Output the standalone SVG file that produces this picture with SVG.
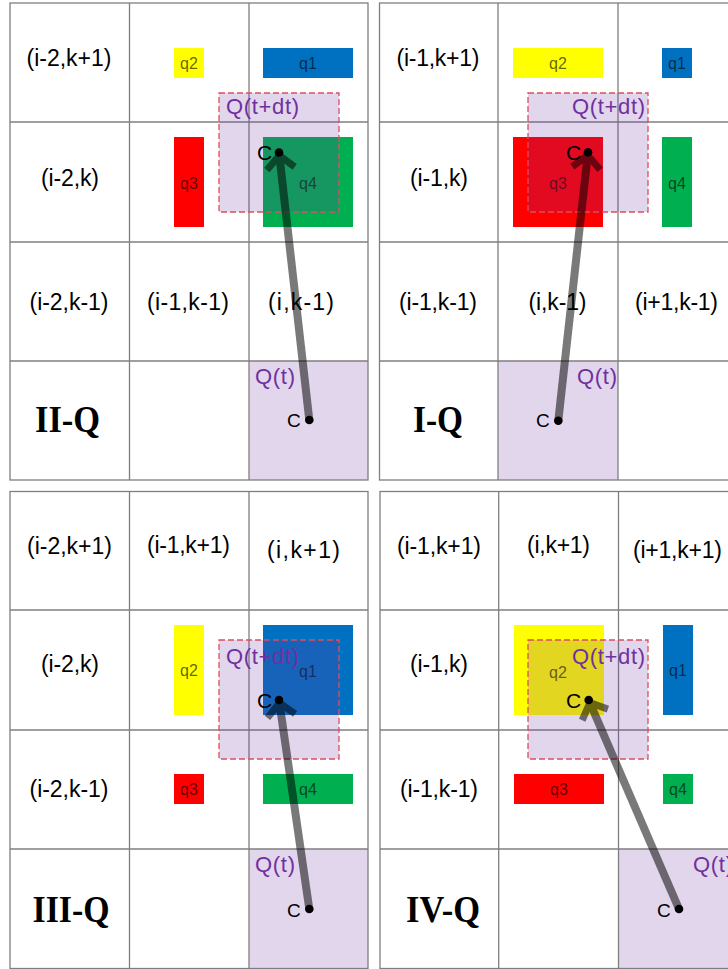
<svg xmlns="http://www.w3.org/2000/svg" width="728" height="969" viewBox="0 0 728 969">
<style>
.bg{fill:#ffffff}
.qt{fill:#e2d6ec}
.grid{stroke:#7f7f7f;stroke-width:1.3;fill:none}
.yel{fill:#ffff00}.blu{fill:#0070c0}.red{fill:#ff0000}.grn{fill:#00b050}
.ovl{fill:#7030a0;fill-opacity:0.2;stroke:#dc4e60;stroke-width:1.3;stroke-dasharray:6 3}
.lbl{font-family:"Liberation Sans",Arial,sans-serif;font-size:23px;fill:#000;text-anchor:middle}
.ql{font-family:"Liberation Sans",Arial,sans-serif;font-size:16px;fill:#000;fill-opacity:0.62;text-anchor:middle}
.pq{font-family:"Liberation Sans",Arial,sans-serif;font-size:22px;fill:#7030a0}
.c{font-family:"Liberation Sans",Arial,sans-serif;font-size:21px;fill:#000}
.cs{font-family:"Liberation Sans",Arial,sans-serif;font-size:19px;fill:#000}
.title{font-family:"Liberation Serif","Times New Roman",serif;font-size:38px;font-weight:bold;fill:#000;text-anchor:middle}
.arr{opacity:0.52}
.arr path{stroke:#000;stroke-width:8;fill:none}
.dot{fill:#000}
</style>
<defs>
<marker id="chev" markerUnits="userSpaceOnUse" viewBox="-20 -20 40 40" markerWidth="40" markerHeight="40" refX="0" refY="0" orient="auto" overflow="visible">
<path d="M-16,-14 L-3,0 L-16,14" fill="none" stroke="#000" stroke-width="7"/>
</marker>
</defs>

<!-- Panel II-Q -->
<g id="panel-IIQ">
<rect class="bg" x="10" y="3" width="358" height="477"/>
<rect class="qt" x="249" y="361" width="119" height="119"/>
<g class="grid">
<rect x="10" y="3" width="358" height="477"/>
<line x1="129.5" y1="3" x2="129.5" y2="480"/><line x1="249" y1="3" x2="249" y2="480"/>
<line x1="10" y1="122" x2="368" y2="122"/><line x1="10" y1="242" x2="368" y2="242"/><line x1="10" y1="361" x2="368" y2="361"/>
</g>
<g id="p1-q2"><rect class="yel" x="174" y="48" width="30" height="30"/><text class="ql" x="189" y="68.5">q2</text></g>
<g id="p1-q1"><rect class="blu" x="263" y="48" width="90" height="30"/><text class="ql" x="308" y="68.5">q1</text></g>
<g id="p1-q3"><rect class="red" x="174" y="137" width="30" height="90"/><text class="ql" x="189" y="188.5">q3</text></g>
<g id="p1-q4"><rect class="grn" x="263" y="137" width="90" height="90"/><text class="ql" x="308" y="188.5">q4</text></g>
<g id="p1-qdt"><rect class="ovl" x="219" y="93" width="120" height="119"/><text class="pq" x="226" y="114" textLength="73">Q(t+dt)</text></g>
<g id="p1-cells">
<text class="lbl" x="69" y="66" textLength="85">(i-2,k+1)</text>
<text class="lbl" x="70" y="186" textLength="58">(i-2,k)</text>
<text class="lbl" x="69" y="310" textLength="79">(i-2,k-1)</text>
<text class="lbl" x="188" y="310" textLength="82">(i-1,k-1)</text>
<text class="lbl" x="301" y="310" textLength="66">(i,k-1)</text>
</g>
<g id="p1-qt"><text class="pq" x="255" y="383.5" textLength="40">Q(t)</text></g>
<text class="title" x="67.5" y="432" textLength="65" lengthAdjust="spacingAndGlyphs">II-Q</text>
</g>

<!-- Panel I-Q -->
<g id="panel-IQ">
<rect class="bg" x="379.5" y="3" width="358" height="477"/>
<rect class="qt" x="498" y="361" width="120" height="119"/>
<g class="grid">
<rect x="379.5" y="3" width="358" height="477"/>
<line x1="498" y1="3" x2="498" y2="480"/><line x1="618" y1="3" x2="618" y2="480"/>
<line x1="379.5" y1="122" x2="738" y2="122"/><line x1="379.5" y1="242" x2="738" y2="242"/><line x1="379.5" y1="361" x2="738" y2="361"/>
</g>
<g id="p2-q2"><rect class="yel" x="513" y="48" width="90" height="30"/><text class="ql" x="558" y="68.5">q2</text></g>
<g id="p2-q1"><rect class="blu" x="662" y="48" width="30" height="30"/><text class="ql" x="677" y="68.5">q1</text></g>
<g id="p2-q3"><rect class="red" x="513" y="137" width="90" height="90"/><text class="ql" x="558" y="188.5">q3</text></g>
<g id="p2-q4"><rect class="grn" x="662" y="137" width="30" height="90"/><text class="ql" x="677" y="188.5">q4</text></g>
<g id="p2-qdt"><rect class="ovl" x="528" y="93" width="120" height="119"/><text class="pq" x="572" y="114" textLength="73">Q(t+dt)</text></g>
<g id="p2-cells">
<text class="lbl" x="438" y="66" textLength="83">(i-1,k+1)</text>
<text class="lbl" x="439" y="186" textLength="58">(i-1,k)</text>
<text class="lbl" x="438" y="310" textLength="78">(i-1,k-1)</text>
<text class="lbl" x="557.5" y="310" textLength="58">(i,k-1)</text>
<text class="lbl" x="676.5" y="310" textLength="83">(i+1,k-1)</text>
</g>
<g id="p2-qt"><text class="pq" x="577" y="383.5" textLength="40">Q(t)</text></g>
<text class="title" x="438" y="432" textLength="50" lengthAdjust="spacingAndGlyphs">I-Q</text>
</g>

<!-- Panel III-Q -->
<g id="panel-IIIQ">
<rect class="bg" x="10" y="491.5" width="358" height="477"/>
<rect class="qt" x="249" y="849" width="119" height="119.5"/>
<g class="grid">
<rect x="10" y="491.5" width="358" height="477"/>
<line x1="129.5" y1="491.5" x2="129.5" y2="968.5"/><line x1="249" y1="491.5" x2="249" y2="968.5"/>
<line x1="10" y1="610" x2="368" y2="610"/><line x1="10" y1="730" x2="368" y2="730"/><line x1="10" y1="849" x2="368" y2="849"/>
</g>
<g id="p3-q2"><rect class="yel" x="174" y="625" width="30" height="90"/><text class="ql" x="189" y="675.5">q2</text></g>
<g id="p3-q1"><rect class="blu" x="263" y="625" width="90" height="90"/><text class="ql" x="308" y="676.5">q1</text></g>
<g id="p3-q3"><rect class="red" x="174" y="774" width="30" height="30"/><text class="ql" x="189" y="794.5">q3</text></g>
<g id="p3-q4"><rect class="grn" x="263" y="774" width="90" height="30"/><text class="ql" x="308" y="794.5">q4</text></g>
<g id="p3-qdt"><rect class="ovl" x="219" y="640" width="120" height="119"/><text class="pq" x="226" y="663.5" textLength="73">Q(t+dt)</text></g>
<g id="p3-cells">
<text class="lbl" x="69.5" y="554" textLength="85">(i-2,k+1)</text>
<text class="lbl" x="188.5" y="553" textLength="83">(i-1,k+1)</text>
<text class="lbl" x="303.5" y="558" textLength="73">(i,k+1)</text>
<text class="lbl" x="70" y="672" textLength="58">(i-2,k)</text>
<text class="lbl" x="69" y="797" textLength="79">(i-2,k-1)</text>
</g>
<g id="p3-qt"><text class="pq" x="255" y="872" textLength="40">Q(t)</text></g>
<text class="title" x="71" y="922" textLength="77" lengthAdjust="spacingAndGlyphs">III-Q</text>
</g>

<!-- Panel IV-Q -->
<g id="panel-IVQ">
<rect class="bg" x="380" y="491.5" width="358" height="477"/>
<rect class="qt" x="618.5" y="849" width="120" height="119.5"/>
<g class="grid">
<rect x="380" y="491.5" width="358" height="477"/>
<line x1="498.7" y1="491.5" x2="498.7" y2="968.5"/><line x1="618.5" y1="491.5" x2="618.5" y2="968.5"/>
<line x1="380" y1="610" x2="738" y2="610"/><line x1="380" y1="730" x2="738" y2="730"/><line x1="380" y1="849" x2="738" y2="849"/>
</g>
<g id="p4-q2"><rect class="yel" x="514" y="625" width="90" height="90"/><text class="ql" x="558" y="677.5">q2</text></g>
<g id="p4-q1"><rect class="blu" x="663" y="625" width="30" height="90"/><text class="ql" x="678" y="675.5">q1</text></g>
<g id="p4-q3"><rect class="red" x="514" y="774" width="90" height="30"/><text class="ql" x="559" y="794.5">q3</text></g>
<g id="p4-q4"><rect class="grn" x="663" y="774" width="30" height="30"/><text class="ql" x="678" y="794.5">q4</text></g>
<g id="p4-qdt"><rect class="ovl" x="528" y="640" width="120" height="119"/><text class="pq" x="572" y="663.5" textLength="73">Q(t+dt)</text></g>
<g id="p4-cells">
<text class="lbl" x="439" y="554" textLength="84">(i-1,k+1)</text>
<text class="lbl" x="558.5" y="553" textLength="63">(i,k+1)</text>
<text class="lbl" x="677.5" y="558" textLength="89">(i+1,k+1)</text>
<text class="lbl" x="439" y="672" textLength="58">(i-1,k)</text>
<text class="lbl" x="439" y="797" textLength="78">(i-1,k-1)</text>
</g>
<g id="p4-qt"><text class="pq" x="693" y="872" textLength="40">Q(t)</text></g>
<text class="title" x="443" y="922" textLength="74" lengthAdjust="spacingAndGlyphs">IV-Q</text>
</g>

<!-- Connectors -->
<g id="connectors">
<g class="arr"><path d="M309.3,420 L279,152.5" marker-end="url(#chev)"/></g>
<g class="arr"><path d="M558.3,420.7 L588,152.3" marker-end="url(#chev)"/></g>
<g class="arr"><path d="M309.3,909 L279,700" marker-end="url(#chev)"/></g>
<g class="arr"><path d="M679,909 L588.7,700" marker-end="url(#chev)"/></g>
</g>

<!-- Centroid points -->
<g id="points">
<circle class="dot" cx="279" cy="152.5" r="4.3"/><text class="c" x="257" y="160">C</text>
<circle class="dot" cx="309.3" cy="420" r="4.3"/><text class="cs" x="287" y="427">C</text>
<circle class="dot" cx="588" cy="152.3" r="4.3"/><text class="c" x="566" y="160">C</text>
<circle class="dot" cx="558.3" cy="420.7" r="4.3"/><text class="cs" x="536" y="427">C</text>
<circle class="dot" cx="279" cy="700" r="4.3"/><text class="c" x="257" y="708">C</text>
<circle class="dot" cx="309.3" cy="909" r="4.3"/><text class="cs" x="287" y="917">C</text>
<circle class="dot" cx="588.7" cy="700" r="4.3"/><text class="c" x="566" y="708">C</text>
<circle class="dot" cx="679" cy="909" r="4.3"/><text class="cs" x="657" y="917">C</text>
</g>
</svg>
